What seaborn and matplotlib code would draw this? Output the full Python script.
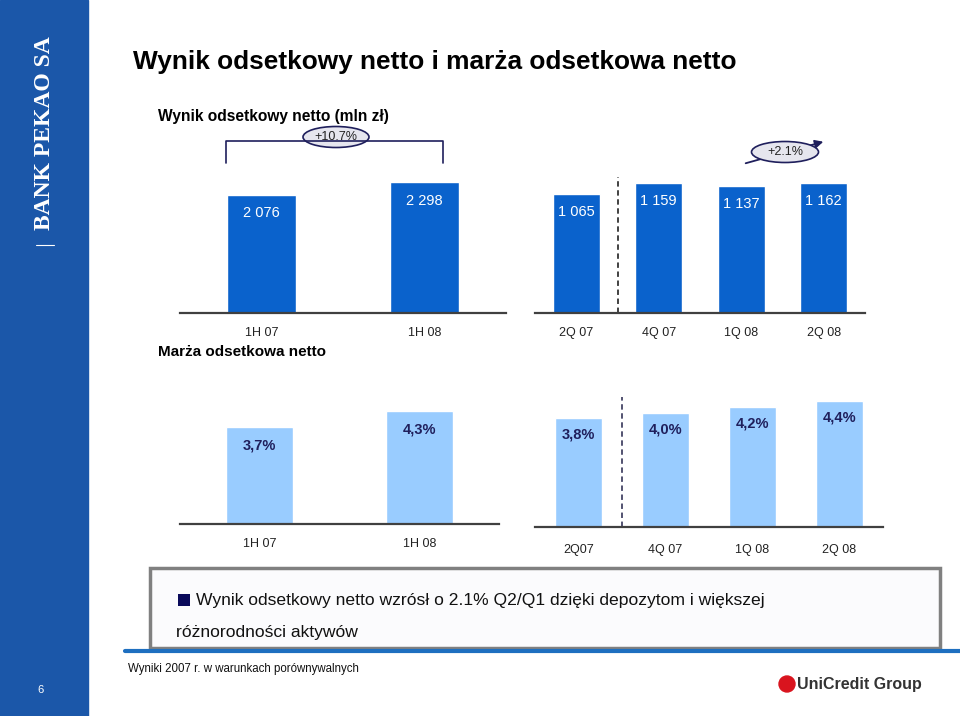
import matplotlib
matplotlib.use("Agg")
import matplotlib.pyplot as plt
from matplotlib.patches import Rectangle, Ellipse, FancyArrowPatch
from matplotlib.lines import Line2D
import seaborn as sns
import pandas as pd

sns.set_theme(style="white")
plt.rcParams['font.family'] = ['Liberation Sans', 'DejaVu Sans']

# ---- data ----
half_cats = ["1H 07", "1H 08"]
half_nii = [2076, 2298]
q_cats_top = ["2Q 07", "4Q 07", "1Q 08", "2Q 08"]
q_nii = [1065, 1159, 1137, 1162]
half_cats_b = ["1H 07", "1H 08"]
half_nim = [3.7, 4.3]
q_cats_bot = ["2Q07", "4Q 07", "1Q 08", "2Q 08"]
q_nim = [3.8, 4.0, 4.2, 4.4]

W, H = 960, 716
fig = plt.figure(figsize=(9.6, 7.16), dpi=100)

def fx(x): return x / W
def fy(y): return 1 - y / H

NARROW = ['Liberation Sans', 'DejaVu Sans']
DARK = '#404040'
TOPBLUE = '#0A62CC'
LIGHTBLUE = '#99CCFF'
NAVY = '#1F1F5C'

def make_ax(x0, x1, ybase, ytop):
    return fig.add_axes([fx(x0), fy(ybase), fx(x1 - x0), (ybase - ytop) / H])

def style_ax(ax, cats, ymax, label_pad):
    n = len(cats)
    ax.set_xlim(-0.5, n - 0.5)
    ax.set_ylim(0, ymax)
    for s in ['top', 'right', 'left']:
        ax.spines[s].set_visible(False)
    ax.spines['bottom'].set_color(DARK)
    ax.spines['bottom'].set_linewidth(1.6)
    ax.set_yticks([])
    ax.set_xticks(range(n))
    ax.set_xticklabels(cats, fontfamily=NARROW, fontsize=9, color='#222222')
    ax.tick_params(axis='x', which='major', length=0, pad=label_pad)
    ax.set_xticks([i - 0.5 for i in range(n + 1)], minor=True)
    ax.tick_params(axis='x', which='minor', length=5, width=1.3, color=DARK, direction='out')
    ax.set_xlabel("")
    ax.set_ylabel("")
    ax.patch.set_alpha(0)

# ---- top charts ----
ax1 = make_ax(180, 506, 313, 150)
sns.barplot(x=half_cats, y=half_nii, ax=ax1, color=TOPBLUE, saturation=1, width=0.42)
style_ax(ax1, half_cats, 163 / (131 / 2298), 10)
for i, v in enumerate(half_nii):
    ax1.annotate(f"{v:,}".replace(",", " "), (i, v), xytext=(0, -13.5), textcoords='offset points',
                 ha='center', va='center', color='white', fontsize=10.5, fontfamily=NARROW)

ax2 = make_ax(535, 865, 313, 150)
sns.barplot(x=q_cats_top, y=q_nii, ax=ax2, color=TOPBLUE, saturation=1, width=0.57)
style_ax(ax2, q_cats_top, 163 / (130 / 1162), 10)
for i, v in enumerate(q_nii):
    ax2.annotate(f"{v:,}".replace(",", " "), (i, v), xytext=(0, -13), textcoords='offset points',
                 ha='center', va='center', color='white', fontsize=10.5, fontfamily=NARROW)
ax2.axvline(0.5, ymin=0, ymax=(313 - 177) / 163, color='#333333', lw=1.3, ls=(0, (3, 2)), clip_on=False)

# ---- bottom charts ----
ax3 = make_ax(180, 499, 524, 380)
sns.barplot(x=half_cats_b, y=half_nim, ax=ax3, color=LIGHTBLUE, saturation=1, width=0.42)
style_ax(ax3, half_cats_b, 144 / 26.2, 10)
for i, v in enumerate(half_nim):
    ax3.annotate(f"{v:.1f}%".replace(".", ","), (i, v), xytext=(0, -13), textcoords='offset points',
                 ha='center', va='center', color=NAVY, fontsize=10.5, fontweight='bold', fontfamily=NARROW)

ax4 = make_ax(535, 883, 527, 380)
sns.barplot(x=q_cats_bot, y=q_nim, ax=ax4, color=LIGHTBLUE, saturation=1, width=0.54)
style_ax(ax4, q_cats_bot, 147 / 28.6, 12)
for i, v in enumerate(q_nim):
    ax4.annotate(f"{v:.1f}%".replace(".", ","), (i, v), xytext=(0, -12), textcoords='offset points',
                 ha='center', va='center', color=NAVY, fontsize=10.5, fontweight='bold', fontfamily=NARROW)
ax4.axvline(0.5, ymin=0, ymax=(527 - 397) / 147, color='#444466', lw=1.3, ls=(0, (3, 2)), clip_on=False)

# ---- left band ----
fig.patches.append(Rectangle((0, 0), fx(88), 1, transform=fig.transFigure, color='#1B57A9', zorder=0))
fig.text(fx(45), fy(133), "BANK PEKAO SA", rotation=90, ha='center', va='center', color='white',
         fontsize=17, fontweight='bold', fontfamily=['Liberation Serif', 'DejaVu Serif'])
fig.add_artist(Line2D([fx(36), fx(54)], [fy(245), fy(245)], transform=fig.transFigure, color='white', lw=0.8))
fig.text(fx(41), fy(690), "6", ha='center', va='center', color='white', fontsize=8)

# ---- titles ----
fig.text(fx(133), fy(62), "Wynik odsetkowy netto i marża odsetkowa netto", fontsize=18.9,
         fontweight='bold', ha='left', va='center', color='black')
fig.text(fx(158), fy(116), "Wynik odsetkowy netto (mln zł)", fontsize=11.2,
         fontweight='bold', ha='left', va='center', color='black')
fig.text(fx(158), fy(352), "Marża odsetkowa netto", fontsize=11,
         fontweight='bold', ha='left', va='center', color='black')

# ---- annotations top ----
bx0, bx1, by, bleg = 226, 443, 141, 163
fig.add_artist(Line2D([fx(bx0), fx(bx0), fx(bx1), fx(bx1)], [fy(bleg), fy(by), fy(by), fy(bleg)],
                      transform=fig.transFigure, color=NAVY, lw=1.2))
fig.add_artist(Ellipse((fx(336), fy(137)), fx(66), 21 / H, transform=fig.transFigure,
                       facecolor='#E6E6EE', edgecolor=NAVY, lw=1.2))
fig.text(fx(336), fy(137), "+10.7%", ha='center', va='center', fontsize=9, fontfamily=NARROW, color='#222222')

fig.add_artist(FancyArrowPatch((fx(743), fy(164)), (fx(826), fy(141)), transform=fig.transFigure,
                               arrowstyle='-|>', mutation_scale=12, color=NAVY, lw=1.3))
fig.add_artist(Ellipse((fx(785), fy(152)), fx(67), 21 / H, transform=fig.transFigure,
                       facecolor='#E6E6EE', edgecolor=NAVY, lw=1.2))
fig.text(fx(785), fy(152), "+2.1%", ha='center', va='center', fontsize=9, fontfamily=NARROW, color='#222222')

# ---- bottom box ----
fig.patches.append(Rectangle((fx(150), fy(648)), fx(790), 80 / H, transform=fig.transFigure,
                             facecolor='#FBFBFD', edgecolor='#808080', lw=2.5, zorder=1))
fig.patches.append(Rectangle((fx(178), fy(606)), fx(12), 12 / H, transform=fig.transFigure,
                             facecolor='#0A0A5A', edgecolor='none', zorder=2))
fig.text(fx(196), fy(600), "Wynik odsetkowy netto wzrósł o 2.1% Q2/Q1 dzięki depozytom i większej",
         fontsize=12.6, ha='left', va='center', color='#111111', zorder=3)
fig.text(fx(176), fy(633), "różnorodności aktywów",
         fontsize=12.6, ha='left', va='center', color='#111111', zorder=3)

fig.add_artist(Line2D([fx(125), 1], [fy(651), fy(651)], transform=fig.transFigure, color='#1E6FC0', lw=3))
fig.text(fx(128), fy(669), "Wyniki 2007 r. w warunkach porównywalnych", fontsize=8.3,
         fontfamily=NARROW, ha='left', va='center', color='#111111')

# UniCredit logo-like text
fig.add_artist(Ellipse((fx(787), fy(684)), 16 / W, 16 / H, transform=fig.transFigure, color='#D9141E'))
fig.text(fx(797), fy(684), "UniCredit Group", fontsize=11.5, fontfamily=NARROW, fontweight='bold',
         ha='left', va='center', color='#333333')

fig.savefig("out.png", dpi=100)
